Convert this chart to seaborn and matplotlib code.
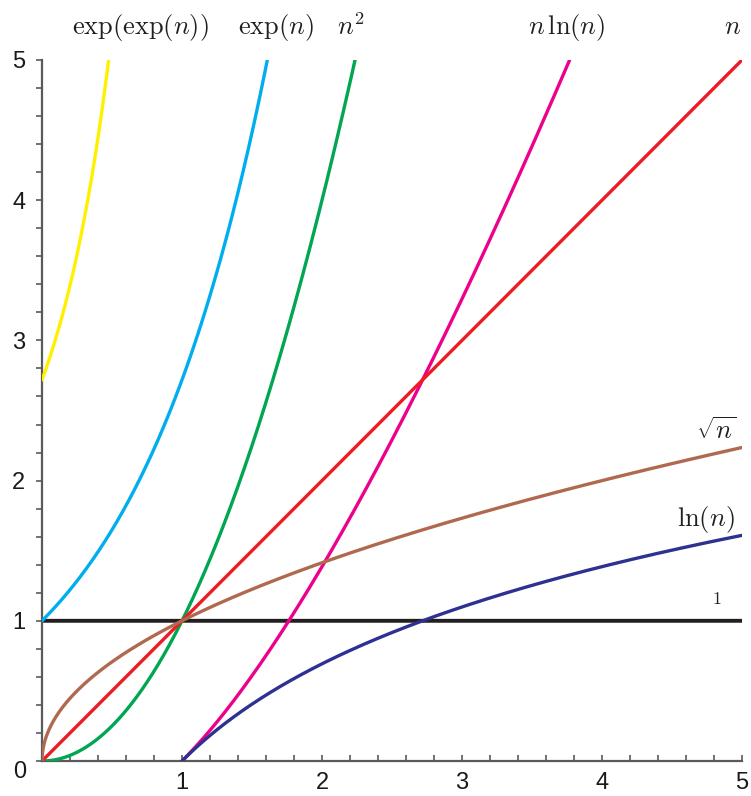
import numpy as np
import pandas as pd
import matplotlib
matplotlib.use("Agg")
import matplotlib.pyplot as plt
from matplotlib.ticker import MultipleLocator, FixedLocator
import seaborn as sns

# Growth-rate comparison of common functions on [0, 5]
labels = [r"$\exp(\exp(n))$", r"$\exp(n)$", r"$n^2$", r"$n\,\ln(n)$", r"$n$",
          r"$\sqrt{n}$", r"$\ln(n)$", r"$1$"]
colors = ["#FFF000", "#00AEEF", "#00A651", "#EC008C", "#ED1C24",
          "#B0694F", "#2E3192", "#231F20"]
domain_start = [0.0, 0.0, 0.0, 1.0, 0.0, 0.0, 1.0, 0.0]
domain_end = [0.6, 1.8, 2.4, 4.0, 5.0, 5.0, 5.0, 5.0]
funcs = [lambda n: np.exp(np.exp(n)), np.exp, np.square,
         lambda n: n * np.log(n), lambda n: n, np.sqrt, np.log,
         lambda n: np.ones_like(n)]

# label centre positions (data coordinates)
label_x = [0.705, 1.67, 2.21, 3.75, 4.93, 4.82, 4.74, 4.82]
label_y = [5.235, 5.235, 5.235, 5.235, 5.235, 2.36, 1.72, 1.15]
label_size = [19, 19, 19, 19, 19, 19, 19, 13]

sns.set_theme(style="white")
plt.rcParams["font.family"] = ["Liberation Sans", "DejaVu Sans"]
plt.rcParams["mathtext.fontset"] = "cm"

fig = plt.figure(figsize=(7.51, 7.96), dpi=100)
ax = fig.add_axes([42 / 751, 35 / 796, 700 / 751, 701 / 796])

for lab, col, a, b, f in zip(labels, colors, domain_start, domain_end, funcs):
    # dense grid, refined near the start for the steep sqrt curve
    n = np.unique(np.concatenate([a + (b - a) * np.linspace(0, 1, 800) ** 2,
                                  np.linspace(a, b, 800)]))
    df = pd.DataFrame({"n": n, "y": f(n)})
    lw = 2.4 if lab != r"$1$" else 2.8
    sns.lineplot(data=df, x="n", y="y", ax=ax, color=col, linewidth=lw,
                 sort=False, estimator=None, zorder=3 if lab != r"$1$" else 2)

for lab, x, y, s in zip(labels, label_x, label_y, label_size):
    ax.text(x, y, lab, ha="center", va="center", fontsize=s,
            color="#231F20", clip_on=False)

ax.set_xlim(0, 5)
ax.set_ylim(0, 5)
ax.set_xlabel("")
ax.set_ylabel("")

for side in ("top", "right"):
    ax.spines[side].set_visible(False)
for side in ("left", "bottom"):
    ax.spines[side].set_color("#5a5a5a")
    ax.spines[side].set_linewidth(1.6)

ax.xaxis.set_major_locator(FixedLocator([1, 2, 3, 4, 5]))
ax.yaxis.set_major_locator(FixedLocator([1, 2, 3, 4, 5]))
ax.xaxis.set_minor_locator(MultipleLocator(0.2))
ax.yaxis.set_minor_locator(MultipleLocator(0.2))
ax.tick_params(axis="x", which="both", direction="in", length=4, width=1.2,
               color="#5a5a5a", labelsize=17, pad=8, labelcolor="#1a1a1a",
               bottom=True)
ax.tick_params(axis="y", which="both", direction="out", length=4, width=1.2,
               color="#5a5a5a", labelsize=17, pad=8, labelcolor="#1a1a1a",
               left=True)
ax.text(-0.11, -0.075, "0", ha="right", va="center", fontsize=17,
        color="#1a1a1a", clip_on=False)

fig.savefig("out.png", dpi=100)
